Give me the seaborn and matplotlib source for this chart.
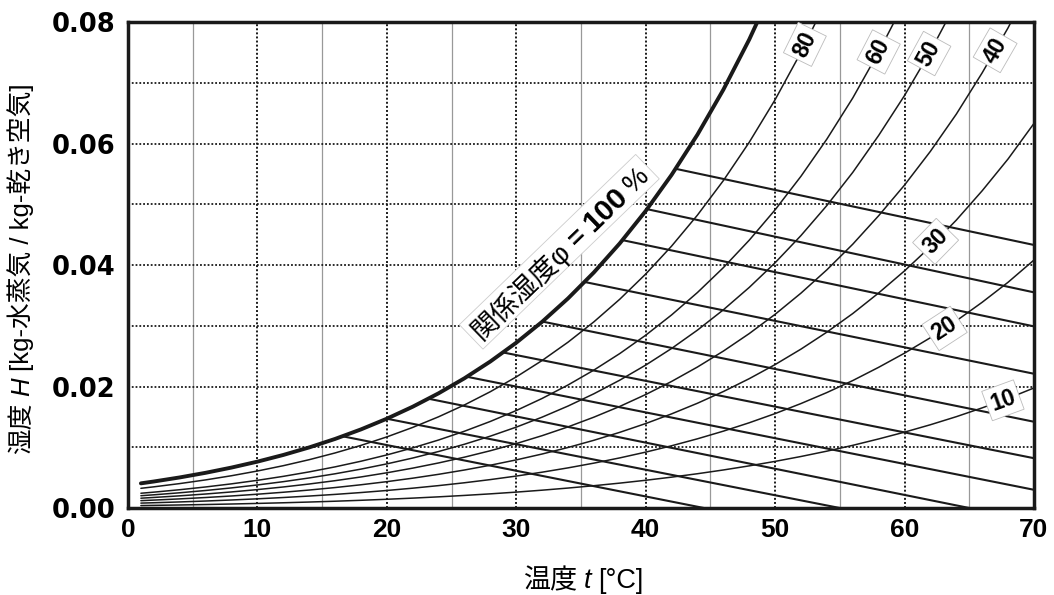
import numpy as np
import pandas as pd
import matplotlib
matplotlib.use("Agg")
import matplotlib.pyplot as plt
import matplotlib.transforms as mtransforms
from matplotlib.patches import Rectangle
import seaborn as sns

# saturation vapour pressure table [kPa] (steam table)
temps = [1, 2, 4, 6, 8, 10, 12, 14, 16, 18, 20, 22, 24, 26, 28, 30, 32, 34, 36,
         38, 40, 42, 44, 46, 48, 50, 52, 54, 56, 58, 60, 62, 64, 66, 68, 70]
p_sat = [0.6571, 0.7060, 0.8135, 0.9354, 1.0730, 1.2282, 1.4028, 1.5989, 1.8188,
         2.0647, 2.3392, 2.6452, 2.9856, 3.3637, 3.7828, 4.2467, 4.7592, 5.3247,
         5.9475, 6.6324, 7.3844, 8.2090, 9.1118, 10.099, 11.177, 12.352, 13.631,
         15.022, 16.532, 18.188, 19.946, 21.851, 23.912, 26.163, 28.563, 31.201]
p_total = 101.325

# relative humidity curves [%] and where their labels sit (temperature)
rh_levels = [100, 80, 60, 50, 40, 30, 20, 10]
rh_labels = [80, 60, 50, 40, 30, 20, 10]
rh_label_t = [52.3, 58.0, 61.9, 67.0, 62.4, 63.1, 67.6]

# adiabatic cooling lines: start on saturation curve, end at H=0 or t=70
cool_t0 = [16.6, 20.0, 23.2, 26.2, 29.0, 32.0, 35.3, 38.2, 40.1, 42.4]
cool_h0 = [0.0118, 0.0147, 0.0180, 0.0216, 0.0256, 0.0307, 0.0372, 0.0441, 0.0492, 0.0558]
cool_t1 = [44.5, 55.0, 65.0, 70, 70, 70, 70, 70, 70, 70]
cool_h1 = [0.0, 0.0, 0.0, 0.0030, 0.0082, 0.0142, 0.0221, 0.0299, 0.0355, 0.0433]

sns.set_theme(style="white")
plt.rcParams["font.family"] = ["Liberation Sans", "Noto Sans CJK JP", "DejaVu Sans"]
for key in ["text.color", "axes.labelcolor", "xtick.color", "ytick.color"]:
    plt.rcParams[key] = "black"

fig = plt.figure(figsize=(10.54, 5.95), dpi=100)
ax = fig.add_axes([0.1214, 0.1462, 0.8596, 0.8168])
ax.set_xlim(0, 70)
ax.set_ylim(0, 0.08)
renderer = fig.canvas.get_renderer()
pix = mtransforms.IdentityTransform()


def chain_text(cx, cy, angle, pieces, **common):
    """Put text pieces with different styles one after another (pixel coords).
    pieces: list of (string, props, gap_after_px). Returns start point and length."""
    widths = []
    for s, kw, gap in pieces:
        t = fig.text(0, 0, s, **common, **kw)
        widths.append(t.get_window_extent(renderer).width)
        t.remove()
    total = sum(widths) + sum(p[2] for p in pieces[:-1])
    c, sn = np.cos(np.radians(angle)), np.sin(np.radians(angle))
    x0, y0 = cx - total / 2 * c, cy - total / 2 * sn
    pos = 0
    for (s, kw, gap), w in zip(pieces, widths):
        fig.text(x0 + pos * c, y0 + pos * sn, s, rotation=angle,
                 rotation_mode="anchor", ha="left", va="baseline",
                 transform=pix, zorder=6, **common, **kw)
        pos += w + gap
    return x0, y0, total


# grid
ax.set_xticks(np.arange(0, 71, 10))
ax.set_xticks(np.arange(5, 70, 10), minor=True)
ax.set_yticks(np.arange(0, 0.081, 0.02))
ax.set_yticks(np.arange(0.01, 0.08, 0.02), minor=True)
ax.grid(which="major", axis="x", color="k", lw=1.4, ls=(0, (1, 1.1)))
ax.grid(which="minor", axis="x", color="#999999", lw=0.9, ls="-")
ax.grid(which="both", axis="y", color="k", lw=1.3, ls=(0, (1, 1.1)))
ax.set_axisbelow(True)

T = np.array(temps)
ps = np.array(p_sat)
curves = {}
for rh in rh_levels:
    pv = rh / 100 * ps
    H = 0.622 * pv / (p_total - pv)
    curves[rh] = H
    sns.lineplot(x=T, y=H, ax=ax, color="k", lw=2.8 if rh == 100 else 1.1,
                 sort=False, estimator=None, zorder=3)

for t0, h0, t1, h1 in zip(cool_t0, cool_h0, cool_t1, cool_h1):
    sns.lineplot(x=[t0, t1], y=[h0, h1], ax=ax, color="k", lw=1.5,
                 sort=False, estimator=None, zorder=3)

# curve labels rotated along the curves
box = dict(boxstyle="square,pad=0.18", fc="white", ec="#bbbbbb", lw=0.6)
for rh, tl in zip(rh_labels, rh_label_t):
    hl = np.interp(tl, T, curves[rh])
    h2 = np.interp(tl + 0.3, T, curves[rh])
    p1 = ax.transData.transform((tl, hl))
    p2 = ax.transData.transform((tl + 0.3, h2))
    ang = np.degrees(np.arctan2(p2[1] - p1[1], p2[0] - p1[0]))
    ax.text(tl, hl, str(rh), rotation=ang, rotation_mode="anchor",
            ha="center", va="center", fontsize=16.5, fontweight="bold",
            bbox=box, zorder=5)

# saturation curve label with a rotated white box behind it
cx, cy = ax.transData.transform((33.4, 0.0405))
ang100 = 44
x0, y0, L = chain_text(cx + 6, cy + 3, ang100,
                       [("関係湿度φ", dict(fontsize=19.5), 7),
                        ("=", dict(fontsize=19.5, fontweight="bold"), 6),
                        ("100", dict(fontsize=21.5, fontweight="bold"), 6),
                        ("%", dict(fontsize=19.5), 0)])
d = np.array([np.cos(np.radians(ang100)), np.sin(np.radians(ang100))])
n = np.array([-d[1], d[0]])
corner = np.array([x0, y0]) - 5 * d - 7 * n
fig.add_artist(Rectangle(corner, L + 10, 34, angle=ang100, rotation_point="xy",
                         transform=pix, fc="white", ec="#cccccc", lw=0.6, zorder=5))

for s in ax.spines.values():
    s.set_linewidth(2.5)
    s.set_color("k")
    s.set_visible(True)

ax.set_xticklabels([str(v) for v in range(0, 71, 10)])
ax.set_yticklabels(["0.00", "0.02", "0.04", "0.06", "0.08"])
ax.tick_params(which="both", length=0)
ax.tick_params(axis="x", pad=7, labelsize=19)
ax.tick_params(axis="y", pad=9, labelsize=18.5)
for lab in ax.get_xticklabels():
    lab.set_fontweight("bold")
for lab in ax.get_yticklabels():
    lab.set_fontweight("bold")
    lab.set_fontfamily("DejaVu Sans")

# axis titles with italic symbols
chain_text(583, 7, 0,
           [("温度", {}, 7), ("t", dict(fontstyle="italic"), 6), ("[°C]", {}, 0)],
           fontsize=19.5)
chain_text(29, 326, 90,
           [("湿度", {}, 7), ("H", dict(fontstyle="italic"), 6),
            ("[kg-水蒸気 / kg-乾き空気]", {}, 0)],
           fontsize=18.5)

fig.savefig("out.png", dpi=100)
